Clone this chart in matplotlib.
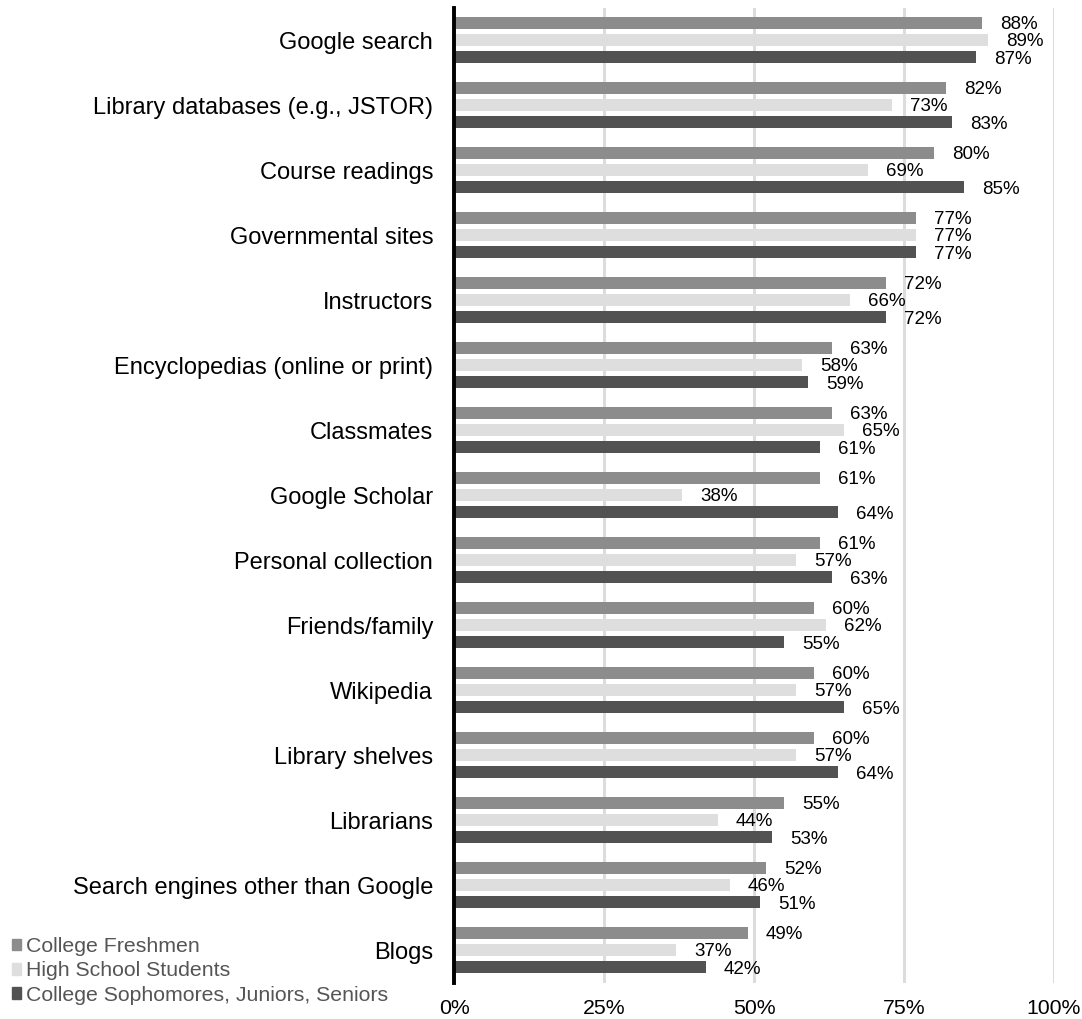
import numpy as np
import matplotlib.pyplot as plt
from matplotlib.patches import Patch

plt.rcParams['font.family'] = ['Liberation Sans', 'DejaVu Sans']

categories = [
    "Google search", "Library databases (e.g., JSTOR)", "Course readings",
    "Governmental sites", "Instructors", "Encyclopedias (online or print)",
    "Classmates", "Google Scholar", "Personal collection", "Friends/family",
    "Wikipedia", "Library shelves", "Librarians",
    "Search engines other than Google", "Blogs",
]
freshmen = [88, 82, 80, 77, 72, 63, 63, 61, 61, 60, 60, 60, 55, 52, 49]
high_school = [89, 73, 69, 77, 66, 58, 65, 38, 57, 62, 57, 57, 44, 46, 37]
upper = [87, 83, 85, 77, 72, 59, 61, 64, 63, 55, 65, 64, 53, 51, 42]

series_names = ["College Freshmen", "High School Students",
                "College Sophomores, Juniors, Seniors"]
colors = ["#8c8c8c", "#dedede", "#525252"]

fig = plt.figure(figsize=(10.82, 10.19), dpi=100)
ax = fig.add_axes([0.4196, 0.0358, 0.5545, 0.9568])

y = np.arange(len(categories))
offsets = [-0.265, 0.0, 0.265]
for vals, off, c in zip([freshmen, high_school, upper], offsets, colors):
    bars = ax.barh(y + off, vals, height=0.19, color=c, zorder=3)
    for b, v in zip(bars, vals):
        ax.text(v + 3.0, b.get_y() + b.get_height() / 2 + 0.03, f"{v}%",
                va='center', ha='left', fontsize=13.5, color='black')

ax.set_ylim(len(categories) - 0.5, -0.5)
ax.set_xlim(0, 100)
ax.set_yticks(y)
ax.set_yticklabels(categories, fontsize=17)
ax.set_xticks([0, 25, 50, 75, 100])
ax.set_xticklabels(["0%", "25%", "50%", "75%", "100%"], fontsize=15.3)
ax.tick_params(axis='both', length=0)
ax.tick_params(axis='y', pad=15)
ax.tick_params(axis='x', pad=12)
ax.grid(axis='x', color='#dcdcdc', linewidth=2.2, zorder=0)
for s in ['top', 'right', 'bottom']:
    ax.spines[s].set_visible(False)
ax.spines['left'].set_linewidth(2.8)
ax.spines['left'].set_color('black')
ax.spines['left'].set_zorder(4)

handles = [Patch(color=c) for c in colors]
leg = fig.legend(handles, series_names, loc='lower left',
                 bbox_to_anchor=(0.011, 0.014), frameon=False, fontsize=15.3,
                 handlelength=0.45, handleheight=0.45, handletextpad=0.2,
                 labelspacing=0.25, borderaxespad=0, borderpad=0)
for t in leg.get_texts():
    t.set_color('#555555')

fig.savefig('out.png', dpi=100)
